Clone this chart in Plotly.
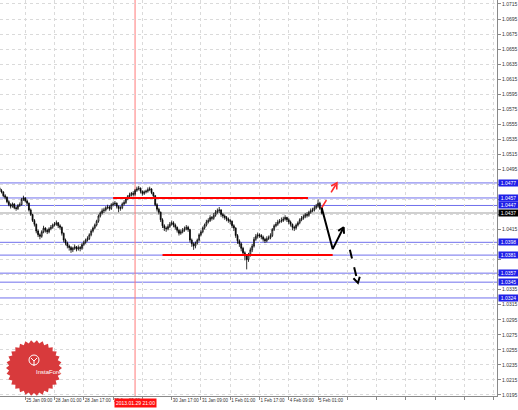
import math
import plotly.graph_objects as go

# ---------------- data ----------------
bar_no = list(range(2, 179))  # hourly bar index (weekend gaps removed)

bar_open = [1.0470,1.0467,1.0465,1.0460,1.0458,1.0452,1.0448,1.0446,1.0449,1.0444,
 1.0443,1.0447,1.0448,1.0455,1.0457,1.0453,1.0450,1.0441,1.0435,1.0427,
 1.0422,1.0413,1.0408,1.0406,1.0412,1.0417,1.0414,1.0412,1.0416,1.0418,
 1.0421,1.0422,1.0424,1.0420,1.0418,1.0410,1.0401,1.0397,1.0393,1.0391,
 1.0388,1.0390,1.0392,1.0389,1.0391,1.0390,1.0395,1.0398,1.0401,1.0403,
 1.0408,1.0413,1.0417,1.0421,1.0426,1.0433,1.0437,1.0440,1.0441,1.0444,
 1.0445,1.0443,1.0448,1.0449,1.0450,1.0446,1.0443,1.0444,1.0449,1.0451,
 1.0456,1.0459,1.0461,1.0463,1.0462,1.0467,1.0469,1.0470,1.0466,1.0463,
 1.0465,1.0466,1.0468,1.0469,1.0464,1.0460,1.0448,1.0442,1.0438,1.0428,
 1.0420,1.0417,1.0416,1.0419,1.0422,1.0424,1.0421,1.0418,1.0414,1.0410,
 1.0412,1.0414,1.0416,1.0418,1.0415,1.0401,1.0396,1.0393,1.0397,1.0401,
 1.0408,1.0412,1.0417,1.0421,1.0425,1.0427,1.0431,1.0430,1.0434,1.0438,
 1.0440,1.0441,1.0435,1.0433,1.0431,1.0429,1.0427,1.0426,1.0420,1.0417,
 1.0407,1.0400,1.0396,1.0390,1.0384,1.0380,1.0375,1.0382,1.0388,1.0393,
 1.0402,1.0406,1.0408,1.0407,1.0405,1.0402,1.0400,1.0403,1.0404,1.0407,
 1.0415,1.0420,1.0422,1.0425,1.0426,1.0427,1.0429,1.0431,1.0428,1.0425,
 1.0422,1.0418,1.0417,1.0421,1.0424,1.0428,1.0430,1.0432,1.0435,1.0434,
 1.0438,1.0440,1.0441,1.0444,1.0446,1.0450,1.0443]

bar_high = [1.0472,1.0469,1.0466,1.0462,1.0459,1.0454,1.0450,1.0451,1.0450,1.0446,
 1.0449,1.0451,1.0457,1.0460,1.0458,1.0455,1.0451,1.0443,1.0436,1.0429,
 1.0423,1.0415,1.0410,1.0414,1.0420,1.0418,1.0416,1.0418,1.0421,1.0423,
 1.0425,1.0427,1.0425,1.0422,1.0419,1.0411,1.0403,1.0399,1.0395,1.0393,
 1.0392,1.0395,1.0393,1.0394,1.0393,1.0397,1.0400,1.0403,1.0406,1.0410,
 1.0415,1.0419,1.0423,1.0428,1.0435,1.0439,1.0443,1.0444,1.0446,1.0448,
 1.0447,1.0450,1.0452,1.0453,1.0451,1.0447,1.0446,1.0451,1.0454,1.0458,
 1.0461,1.0464,1.0465,1.0466,1.0469,1.0472,1.0473,1.0471,1.0467,1.0467,
 1.0468,1.0471,1.0472,1.0470,1.0465,1.0461,1.0450,1.0444,1.0439,1.0430,
 1.0422,1.0419,1.0422,1.0425,1.0427,1.0426,1.0423,1.0419,1.0416,1.0415,
 1.0417,1.0419,1.0421,1.0420,1.0416,1.0403,1.0398,1.0399,1.0403,1.0410,
 1.0414,1.0419,1.0423,1.0428,1.0430,1.0434,1.0433,1.0437,1.0441,1.0443,
 1.0445,1.0442,1.0437,1.0435,1.0433,1.0431,1.0429,1.0427,1.0422,1.0418,
 1.0409,1.0402,1.0398,1.0392,1.0386,1.0382,1.0384,1.0391,1.0396,1.0405,
 1.0409,1.0411,1.0410,1.0409,1.0407,1.0404,1.0406,1.0407,1.0410,1.0417,
 1.0422,1.0425,1.0428,1.0429,1.0431,1.0432,1.0434,1.0432,1.0430,1.0427,
 1.0423,1.0420,1.0423,1.0426,1.0430,1.0433,1.0435,1.0437,1.0438,1.0440,
 1.0443,1.0444,1.0447,1.0449,1.0455,1.0452,1.0445]

bar_low = [1.0465,1.0463,1.0458,1.0455,1.0450,1.0446,1.0443,1.0444,1.0442,1.0440,
 1.0441,1.0445,1.0447,1.0453,1.0451,1.0447,1.0439,1.0433,1.0425,1.0419,
 1.0410,1.0405,1.0402,1.0404,1.0410,1.0411,1.0409,1.0410,1.0414,1.0416,
 1.0419,1.0420,1.0417,1.0415,1.0407,1.0398,1.0394,1.0390,1.0387,1.0384,
 1.0385,1.0388,1.0386,1.0387,1.0386,1.0388,1.0393,1.0396,1.0399,1.0401,
 1.0406,1.0411,1.0415,1.0419,1.0424,1.0431,1.0435,1.0437,1.0439,1.0442,
 1.0440,1.0441,1.0446,1.0447,1.0443,1.0438,1.0440,1.0442,1.0447,1.0449,
 1.0454,1.0457,1.0459,1.0459,1.0460,1.0465,1.0467,1.0463,1.0460,1.0461,
 1.0463,1.0464,1.0466,1.0462,1.0457,1.0446,1.0439,1.0435,1.0425,1.0417,
 1.0413,1.0412,1.0414,1.0417,1.0420,1.0418,1.0415,1.0411,1.0407,1.0408,
 1.0410,1.0412,1.0414,1.0412,1.0398,1.0392,1.0388,1.0390,1.0395,1.0399,
 1.0406,1.0410,1.0415,1.0419,1.0423,1.0425,1.0427,1.0428,1.0432,1.0436,
 1.0437,1.0432,1.0430,1.0428,1.0426,1.0424,1.0422,1.0417,1.0413,1.0404,
 1.0396,1.0392,1.0386,1.0380,1.0374,1.0362,1.0372,1.0379,1.0385,1.0391,
 1.0400,1.0403,1.0404,1.0402,1.0399,1.0397,1.0398,1.0401,1.0402,1.0405,
 1.0413,1.0418,1.0420,1.0423,1.0424,1.0425,1.0427,1.0425,1.0422,1.0419,
 1.0414,1.0413,1.0415,1.0419,1.0422,1.0426,1.0428,1.0430,1.0431,1.0432,
 1.0436,1.0438,1.0439,1.0442,1.0444,1.0441,1.0435]

bar_close = [1.0467,1.0465,1.0460,1.0458,1.0452,1.0448,1.0446,1.0449,1.0444,1.0443,
 1.0447,1.0448,1.0455,1.0457,1.0453,1.0450,1.0441,1.0435,1.0427,1.0422,
 1.0413,1.0408,1.0406,1.0412,1.0417,1.0414,1.0412,1.0416,1.0418,1.0421,
 1.0422,1.0424,1.0420,1.0418,1.0410,1.0401,1.0397,1.0393,1.0391,1.0388,
 1.0390,1.0392,1.0389,1.0391,1.0390,1.0395,1.0398,1.0401,1.0403,1.0408,
 1.0413,1.0417,1.0421,1.0426,1.0433,1.0437,1.0440,1.0441,1.0444,1.0445,
 1.0443,1.0448,1.0449,1.0450,1.0446,1.0443,1.0444,1.0449,1.0451,1.0456,
 1.0459,1.0461,1.0463,1.0462,1.0467,1.0469,1.0470,1.0466,1.0463,1.0465,
 1.0466,1.0468,1.0469,1.0464,1.0460,1.0448,1.0442,1.0438,1.0428,1.0420,
 1.0417,1.0416,1.0419,1.0422,1.0424,1.0421,1.0418,1.0414,1.0410,1.0412,
 1.0414,1.0416,1.0418,1.0415,1.0401,1.0396,1.0393,1.0397,1.0401,1.0408,
 1.0412,1.0417,1.0421,1.0425,1.0427,1.0431,1.0430,1.0434,1.0438,1.0440,
 1.0441,1.0435,1.0433,1.0431,1.0429,1.0427,1.0426,1.0420,1.0417,1.0407,
 1.0400,1.0396,1.0390,1.0384,1.0380,1.0375,1.0382,1.0388,1.0393,1.0402,
 1.0406,1.0408,1.0407,1.0405,1.0402,1.0400,1.0403,1.0404,1.0407,1.0415,
 1.0420,1.0422,1.0425,1.0426,1.0427,1.0429,1.0431,1.0428,1.0425,1.0422,
 1.0418,1.0417,1.0421,1.0424,1.0428,1.0430,1.0432,1.0435,1.0434,1.0438,
 1.0440,1.0441,1.0444,1.0446,1.0450,1.0443,1.0437]

price_ticks = [1.0195,1.0215,1.0235,1.0255,1.0275,1.0295,1.0315,1.0335,1.0355,
               1.0375,1.0395,1.0415,1.0435,1.0455,1.0475,1.0495,1.0515,1.0535,
               1.0555,1.0575,1.0595,1.0615,1.0635,1.0655,1.0675,1.0695,1.0715]

time_tick_bars = [0, 16, 32, 48, 64, 80, 96, 112, 128, 144, 160, 176]
time_tick_labels = ["24 Jan 17:00", "25 Jan 09:00", "28 Jan 01:00", "28 Jan 17:00",
                    "29 Jan 09:00", "30 Jan 01:00", "30 Jan 17:00", "31 Jan 09:00",
                    "1 Feb 01:00", "1 Feb 17:00", "4 Feb 09:00", "5 Feb 01:00"]
future_grid_bars = [192, 208, 224, 240, 256, 272]

level_prices = [1.0477, 1.0457, 1.0447, 1.0398, 1.0381, 1.0357, 1.0345, 1.0324]
level_labels = ["1.0477", "1.0457", "1.0447", "1.0398", "1.0381", "1.0357", "1.0345", "1.0324"]
last_price = 1.0437
last_label = "1.0437"

resistance_bars = [64, 170.5]
resistance_price = 1.0457
support_bars = [91, 184]
support_price = 1.0381

marker_bar = 76
marker_label = "2013.01.29 21:00"

up_path_bars = [178, 186.3]
up_path_prices = [1.0444, 1.0477]
main_path_bars = [178, 184, 190]
main_path_prices = [1.0444, 1.0389, 1.0418]
down_path_bars = [193.4, 197.8]
down_path_prices = [1.0388, 1.0344]

# ---------------- layout geometry ----------------
W, H = 518, 410
ML, MR, MT, MB = 0, 21, 0, 14
PW, PH = W - ML - MR, H - MT - MB
X_RANGE = [2.19, 273.8]
Y_RANGE = [1.01936, 1.07203]
PX_X = PW / (X_RANGE[1] - X_RANGE[0])
PX_Y = PH / (Y_RANGE[1] - Y_RANGE[0])

FONT = "Liberation Sans"
GRID = "#dadada"
BLUE_LINE = "rgb(112,112,236)"
BLUE_BOX = "#1f1fe8"

fig = go.Figure()

fig.add_trace(go.Candlestick(
    x=bar_no, open=bar_open, high=bar_high, low=bar_low, close=bar_close,
    increasing=dict(line=dict(color="black", width=0.8), fillcolor="white"),
    decreasing=dict(line=dict(color="black", width=0.8), fillcolor="black"),
    whiskerwidth=0, showlegend=False, hoverinfo="skip"))


def head(bars, prices, size=6.5, ang=30):
    x0, y0, x1, y1 = bars[-2], prices[-2], bars[-1], prices[-1]
    dx, dy = (x1 - x0) * PX_X, (y1 - y0) * PX_Y
    L = math.hypot(dx, dy)
    ux, uy = -dx / L, -dy / L
    xs, ys = [], []
    for s in (1, -1):
        a = math.radians(ang) * s
        bx = ux * math.cos(a) - uy * math.sin(a)
        by = ux * math.sin(a) + uy * math.cos(a)
        xs.append(x1 + bx * size / PX_X)
        ys.append(y1 + by * size / PX_Y)
    return [xs[0], x1, xs[1]], [ys[0], y1, ys[1]]


def path(bars, prices, color, dash, width):
    fig.add_trace(go.Scatter(x=bars, y=prices, mode="lines",
                             line=dict(color=color, width=width, dash=dash),
                             showlegend=False, hoverinfo="skip"))
    hx, hy = head(bars, prices)
    fig.add_trace(go.Scatter(x=hx, y=hy, mode="lines",
                             line=dict(color=color, width=width),
                             showlegend=False, hoverinfo="skip"))


path(up_path_bars, up_path_prices, "#ff2a2a", "dash", 1.6)
path(main_path_bars, main_path_prices, "black", "solid", 2)
path(down_path_bars, down_path_prices, "black", "dash", 2)

shapes = []
for lv in level_prices:
    shapes.append(dict(type="line", xref="paper", x0=0, x1=1, yref="y", y0=lv, y1=lv,
                       line=dict(color=BLUE_LINE, width=1), layer="between"))
shapes.append(dict(type="line", xref="paper", x0=0, x1=1, yref="y", y0=last_price,
                   y1=last_price, line=dict(color="rgb(208,208,208)", width=2), layer="between"))
shapes.append(dict(type="line", xref="x", x0=marker_bar, x1=marker_bar, yref="paper",
                   y0=0, y1=1, line=dict(color="rgb(255,120,120)", width=1), layer="between"))
shapes.append(dict(type="line", xref="x", x0=resistance_bars[0], x1=resistance_bars[1],
                   yref="y", y0=resistance_price, y1=resistance_price,
                   line=dict(color="#ff0000", width=2), layer="above"))
shapes.append(dict(type="line", xref="x", x0=support_bars[0], x1=support_bars[1],
                   yref="y", y0=support_price, y1=support_price,
                   line=dict(color="#ff0000", width=2), layer="above"))


# logo (decoration) in pixel space of the plot area
def pp(px, py):
    return px / PW, 1 - py / PH


cx, cy, R = 34, 368, 28
n = 30
pts = []
for k in range(2 * n):
    r = R if k % 2 == 0 else R - 3
    a = math.pi * k / n
    pts.append(pp(cx + r * math.cos(a), cy + r * math.sin(a)))
d = "M " + " L ".join(f"{x:.5f},{y:.5f}" for x, y in pts) + " Z"
shapes.append(dict(type="path", xref="paper", yref="paper", path=d,
                   fillcolor="#d83a3c", line=dict(width=0), layer="above"))
x0, y0 = pp(cx - 5, cy - 13)
x1, y1 = pp(cx + 5, cy - 3)
shapes.append(dict(type="circle", xref="paper", yref="paper", x0=x0, y0=y1, x1=x1, y1=y0,
                   line=dict(color="white", width=1), layer="above"))
fx = [pp(cx - 3, cy - 10), pp(cx, cy - 7), pp(cx + 3, cy - 10)]
shapes.append(dict(type="path", xref="paper", yref="paper",
                   path="M {:.5f},{:.5f} L {:.5f},{:.5f} L {:.5f},{:.5f}".format(
                       fx[0][0], fx[0][1], fx[1][0], fx[1][1], fx[2][0], fx[2][1]),
                   line=dict(color="white", width=1), layer="above"))
b0 = pp(cx, cy - 7)
b1 = pp(cx, cy - 2)
shapes.append(dict(type="line", xref="paper", yref="paper", x0=b0[0], y0=b0[1],
                   x1=b1[0], y1=b1[1], line=dict(color="white", width=1), layer="above"))

annotations = []
tx, ty = pp(cx, cy + 9)
annotations.append(dict(x=tx, y=ty, xref="paper", yref="paper", text="InstaForex",
                        showarrow=False, font=dict(family=FONT, size=6, color="white")))

for lv, lab in zip(level_prices, level_labels):
    annotations.append(dict(x=1, xref="paper", xanchor="left", xshift=1, y=lv, yref="y",
                            text=lab, showarrow=False, bgcolor=BLUE_BOX, borderpad=0,
                            width=19, height=6, align="center",
                            font=dict(family=FONT, size=5, color="white")))
annotations.append(dict(x=1, xref="paper", xanchor="left", xshift=1, y=last_price, yref="y",
                        text=last_label, showarrow=False, bgcolor="black", borderpad=0,
                        width=19, height=6, align="center",
                        font=dict(family=FONT, size=5, color="white")))
annotations.append(dict(x=marker_bar, xref="x", y=0, yref="paper", yanchor="top", yshift=-2,
                        text=marker_label, showarrow=False, bgcolor="#ff1010", borderpad=1,
                        font=dict(family=FONT, size=5, color="white")))

# price tick labels hidden behind a highlighted label in the original are left blank
covered = level_prices + [last_price]
price_tick_text = ["" if any(abs(p - c) < 0.0007 for c in covered) else f"{p:.4f}"
                   for p in price_ticks]
# the 30 Jan 01:00 label sits under the red time box
time_text = ["" if b == 80 else t for b, t in zip(time_tick_bars, time_tick_labels)]

fig.update_layout(
    width=W, height=H,
    margin=dict(l=ML, r=MR, t=MT, b=MB, autoexpand=False),
    paper_bgcolor="white", plot_bgcolor="white",
    shapes=shapes, annotations=annotations,
    showlegend=False,
    xaxis=dict(range=X_RANGE, rangeslider=dict(visible=False), automargin=False,
               tickvals=time_tick_bars + future_grid_bars,
               ticktext=time_text + [""] * len(future_grid_bars),
               ticklabelposition="outside right", tickangle=0,
               tickfont=dict(family=FONT, size=4.5, color="#333"),
               showgrid=True, gridcolor=GRID, griddash="dot", gridwidth=1,
               showline=True, linecolor="#8a8a8a", linewidth=1,
               ticks="outside", ticklen=3, tickcolor="#8a8a8a",
               zeroline=False, fixedrange=True),
    yaxis=dict(range=Y_RANGE, side="right", automargin=False,
               tickvals=price_ticks, ticktext=price_tick_text,
               tickfont=dict(family=FONT, size=5, color="#333"),
               showgrid=True, gridcolor=GRID, griddash="dot", gridwidth=1,
               showline=True, linecolor="#8a8a8a", linewidth=1,
               ticks="outside", ticklen=3, tickcolor="#8a8a8a",
               zeroline=False, fixedrange=True),
)

fig.write_html("out.html", config={"displayModeBar": False},
               post_script="document.body.style.margin='0';document.body.style.overflow='hidden';")
